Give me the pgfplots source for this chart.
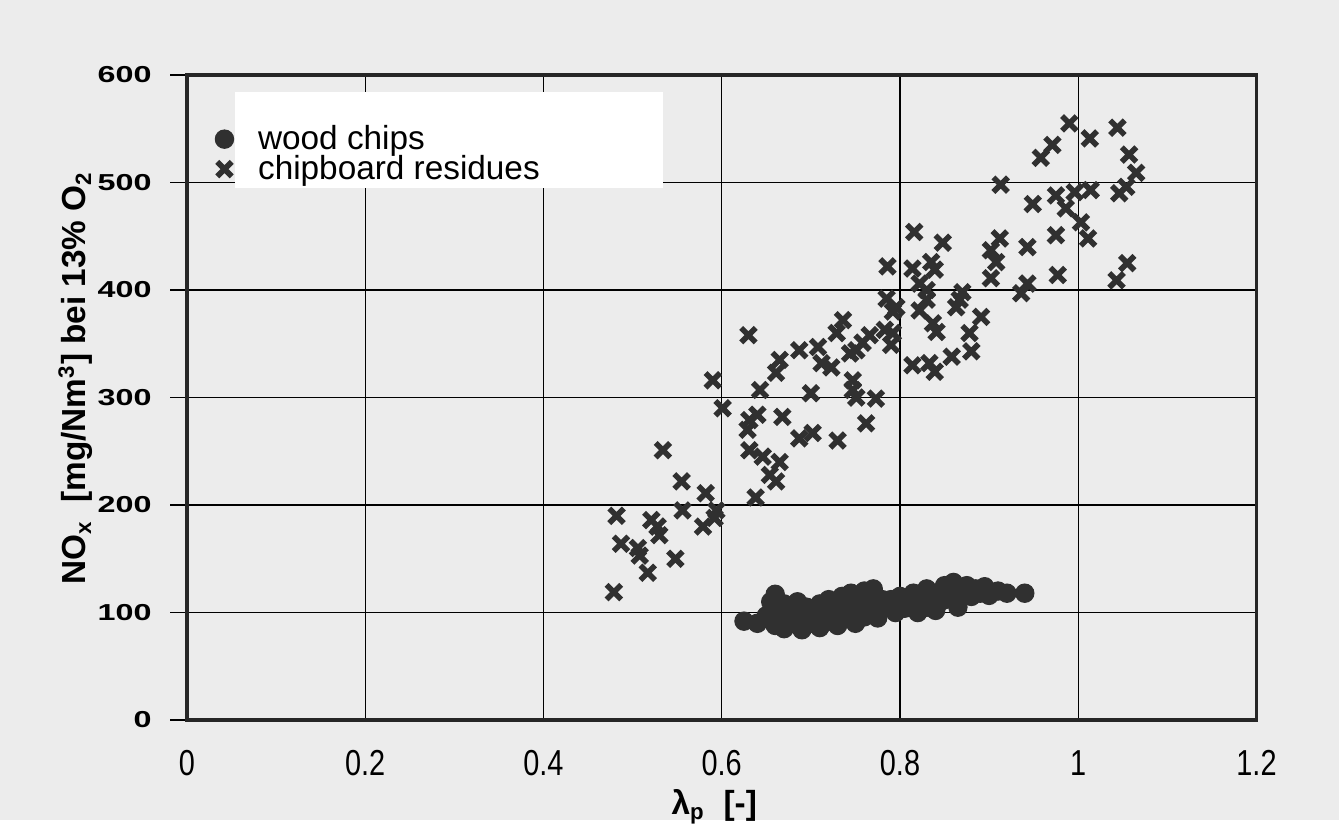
\documentclass[border=0pt]{standalone}
\usepackage{fontspec}
\setmainfont{Liberation Sans}
\usepackage{graphicx}
\usepackage{pgfplots}
\pgfplotsset{compat=1.18}
\definecolor{bg}{RGB}{236,236,236}
\definecolor{ink}{RGB}{48,48,48}
\newcommand\ylab[1]{\scalebox{1.4}[1]{\fontsize{8.3}{8.3}\selectfont\bfseries #1}}
\newcommand\xlab[1]{\scalebox{0.8}[1]{\fontsize{13}{13}\selectfont #1}}

\pgfplotstableread{
x y
0.625 92
0.640 90
0.650 97
0.655 110
0.660 117
0.660 88
0.665 100
0.670 108
0.670 85
0.675 95
0.680 90
0.680 103
0.685 110
0.690 84
0.690 97
0.695 105
0.700 90
0.700 100
0.705 95
0.710 86
0.710 108
0.715 100
0.720 92
0.720 112
0.725 98
0.730 88
0.730 105
0.735 115
0.740 95
0.740 108
0.745 100
0.745 118
0.750 90
0.750 112
0.755 104
0.760 96
0.760 120
0.765 110
0.770 100
0.770 122
0.775 95
0.780 112
0.785 105
0.790 112
0.795 100
0.800 108
0.800 115
0.805 104
0.810 112
0.815 118
0.820 108
0.820 100
0.825 115
0.830 122
0.830 105
0.835 112
0.840 102
0.840 118
0.845 110
0.850 125
0.850 112
0.855 120
0.860 128
0.865 105
0.870 118
0.875 125
0.880 115
0.885 122
0.890 118
0.895 124
0.900 116
0.910 120
0.920 118
0.940 118
}\woodchips

\pgfplotstableread{
x y
0.479 119
0.482 190
0.487 164
0.506 160
0.508 153
0.517 137
0.521 186
0.528 180
0.530 172
0.534 251
0.548 150
0.555 222
0.556 195
0.579 180
0.582 211
0.590 316
0.592 188
0.594 195
0.601 290
0.629 270
0.630 358
0.631 279
0.631 251
0.638 207
0.640 284
0.643 307
0.646 245
0.654 228
0.661 222
0.661 323
0.665 335
0.665 240
0.668 282
0.687 344
0.687 262
0.700 304
0.702 267
0.708 347
0.712 332
0.723 328
0.729 360
0.730 260
0.736 372
0.744 341
0.747 316
0.747 307
0.751 344
0.751 300
0.758 351
0.762 276
0.766 358
0.773 299
0.783 363
0.785 392
0.786 422
0.790 349
0.792 380
0.792 360
0.796 384
0.814 420
0.814 330
0.816 454
0.822 406
0.822 381
0.830 400
0.830 391
0.833 332
0.835 426
0.837 369
0.839 419
0.839 324
0.841 361
0.848 444
0.858 338
0.863 384
0.867 391
0.870 398
0.878 360
0.880 343
0.891 375
0.902 411
0.902 437
0.908 426
0.912 448
0.913 498
0.936 397
0.943 406
0.943 440
0.949 480
0.958 523
0.971 535
0.975 488
0.975 451
0.977 414
0.986 476
0.990 555
0.996 491
1.003 463
1.011 448
1.013 541
1.014 493
1.044 551
1.043 409
1.046 490
1.054 496
1.055 425
1.057 526
1.065 509
}\chipboard

\begin{document}
\begin{tikzpicture}
\fill[bg] (-67.3pt,-36pt) rectangle (414.7pt,259.2pt);
\begin{axis}[
  at={(0,0)}, anchor=south west,
  scale only axis, width=385pt, height=232.2pt,
  xmin=0, xmax=1.2, ymin=0, ymax=600,
  xtick={0,0.2,0.4,0.6,0.8,1,1.2},
  xticklabels={\xlab{0},\xlab{0.2},\xlab{0.4},\xlab{0.6},\xlab{0.8},\xlab{1},\xlab{1.2}},
  ytick={0,100,200,300,400,500,600},
  yticklabels={\ylab{0},\ylab{100},\ylab{200},\ylab{300},\ylab{400},\ylab{500},\ylab{600}},
  grid=major, grid style={black, line width=0.5pt},
  axis line style={black!85, line width=1.3pt},
  tick align=outside, tick style={black, line width=0.6pt},
  xtick style={draw=none},
  ytick pos=left, xtick pos=bottom,
  major tick length=6pt,
  xticklabel style={yshift=-1.5pt},
  yticklabel style={xshift=-3.2pt},
  xlabel={\fontsize{12}{12}\selectfont\bfseries λ\textsubscript{p}\ \ [-]},
  ylabel={\fontsize{12}{12}\selectfont\bfseries NO\textsubscript{x}\ \ [mg/Nm\textsuperscript{3}] bei 13\% O\textsubscript{2}},
  xlabel style={at={(rel axis cs:0.493,-0.135)}, anchor=center},
  ylabel style={at={(rel axis cs:-0.104,0.53)}, anchor=center},
  legend style={at={(0.026,0.932)}, anchor=north west, draw=none, fill=none,
    font=\fontsize{12}{12}\selectfont, row sep=-3.4pt, inner sep=0pt},
  legend cell align=left,
]
\fill[white] (axis cs:0.054,495) rectangle (axis cs:0.534,584);
\addplot[only marks, mark=*, mark size=3.3pt, color=ink, mark options={fill=ink, draw=ink}] table {\woodchips};
\addlegendentry{\hspace{6.8pt}wood chips}
\addplot[only marks, mark=x, mark size=3.7pt, color=ink, mark options={line width=2pt}] table {\chipboard};
\addlegendentry{\hspace{6.8pt}chipboard residues}
\end{axis}
\end{tikzpicture}
\end{document}
